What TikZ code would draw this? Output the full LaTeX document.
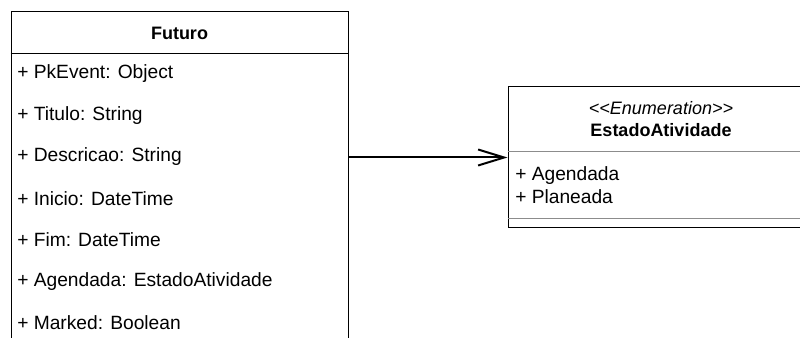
\documentclass[tikz,border=0pt]{standalone}
\usepackage{fontspec}
\setmainfont{Liberation Sans}
\usetikzlibrary{arrows.meta}
\begin{document}
\begin{tikzpicture}[x=0.75pt,y=-0.75pt,
  classbox/.style={draw=black,line width=0.75pt,rectangle,inner sep=0pt},
  attr/.style={anchor=west,inner sep=0pt,font=\fontsize{14.4}{17}\selectfont},
  title/.style={inner sep=0pt,font=\fontsize{13.5}{16}\selectfont\bfseries},
  stereo/.style={inner sep=0pt,font=\fontsize{13.5}{16}\selectfont\itshape},
  sep/.style={draw=black!45,line width=0.75pt},
  assoc/.style={line width=1.5pt,-{Straight Barb[length=19.5pt,width=12pt,line width=1.5pt]}}]
\useasboundingbox (0,0) rectangle (800,338);
\clip (0,0) rectangle (800,338);

% class Futuro
\node[classbox,minimum width=252.75pt,minimum height=291pt] (futuro) at (179.5,206) {};
\node[title] (futurotitle) at (179.5,33) {Futuro};
\draw[line width=0.75pt] (futuro.west |- 0,53.5) -- (futuro.east |- 0,53.5);
\node[attr] (a1) at (17,74)    {+ PkEvent: Object};
\node[attr] (a2) at (17,115.5) {+ Titulo: String};
\node[attr] (a3) at (17,157)   {+ Descricao: String};
\node[attr] (a4) at (17,198.5) {+ Inicio: DateTime};
\node[attr] (a5) at (17,240)   {+ Fim: DateTime};
\node[attr] (a6) at (17,281.5) {+ Agendada: EstadoAtividade};
\node[attr] (a7) at (17,323)   {+ Marked: Boolean};

% enumeration EstadoAtividade
\node[classbox,minimum width=229.5pt,minimum height=105.75pt] (estado) at (661,157.5) {};
\node[stereo] (estereo) at (661,108) {{<}{<}Enumeration{>}{>}};
\node[title] (estadotitle) at (661,130) {EstadoAtividade};
\draw[sep] (estado.west |- 0,151.7) -- (estado.east |- 0,151.7);
\node[attr] (e1) at (515,175.7) {+ Agendada};
\node[attr] (e2) at (515,196.7) {+ Planeada};
\draw[sep] (estado.west |- 0,219) -- (estado.east |- 0,219);

% association
\draw[assoc] (futuro.east |- estado.west) -- (estado.west);
\end{tikzpicture}
\end{document}
